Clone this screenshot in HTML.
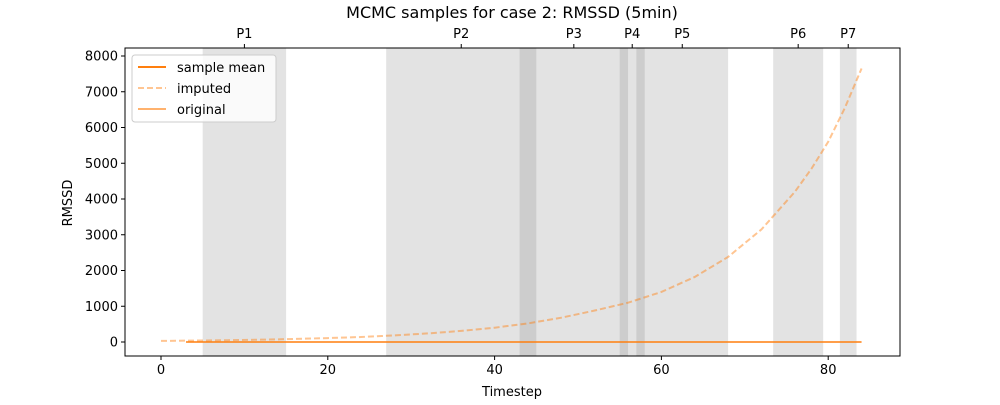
<!DOCTYPE html>
<html><head><meta charset="utf-8"><style>
body{margin:0;background:#fff;font-family:"Liberation Sans","DejaVu Sans",sans-serif}
svg text{font-family:"DejaVu Sans","Liberation Sans",sans-serif;font-size:13px;fill:#000}
</style></head><body>
<svg id="c" width="1000" height="400">
<text x="512" y="18" text-anchor="middle" style="font-size:16px">MCMC samples for case 2: RMSSD (5min)</text>
<g id="g"></g>
</svg>
<script>
const periodLabels=["P1","P2","P3","P4","P5","P6","P7"];
const periodStart=[5,27,43,55,57,73.4,81.4];
const periodEnd=[15,45,56,58,68,79.4,83.4];
const imputedT=[0,4,8,12,16,20,24,28,32,36,40,44,48,52,56,60,64,68,72,76,78,80,82,84];
const imputedV=[30,40,50,65,85,110,140,185,240,310,400,520,680,880,1100,1400,1820,2380,3150,4200,4850,5600,6550,7650];
const meanT=[3,84];
const meanV=[0,0];
const xTicks=[0,20,40,60,80];
const yTicks=[0,1000,2000,3000,4000,5000,6000,7000,8000];
const L=125,R=900,T=48,B=356;
const X=t=>161+t*8.34;
const Y=v=>342-v*0.03575;
const NS="http://www.w3.org/2000/svg";
const g=document.getElementById('g');
function mk(tag,at,txt){const e=document.createElementNS(NS,tag);for(const k in at)e.setAttribute(k,at[k]);if(txt!=null)e.textContent=txt;g.appendChild(e);return e;}
periodLabels.forEach((p,i)=>{
 const r=mk('rect',{x:X(periodStart[i]),y:T,width:X(periodEnd[i])-X(periodStart[i]),height:B-T,fill:'#808080','fill-opacity':0.22});
 
 
 const c=(X(periodStart[i])+X(periodEnd[i]))/2;
 mk('line',{x1:c,x2:c,y1:T,y2:T-4,stroke:'#000'});
 const t=mk('text',{x:c,y:T-10,'text-anchor':'middle'},p);
 
 
});
const imp=mk('polyline',{points:imputedT.map((t,i)=>X(t)+','+Y(imputedV[i])).join(' '),fill:'none',stroke:'#ff7f0e','stroke-opacity':0.45,'stroke-width':2,'stroke-dasharray':'6,3'});


const mn=mk('polyline',{points:meanT.map((t,i)=>X(t)+','+Y(meanV[i])).join(' '),fill:'none',stroke:'#ff7f0e','stroke-width':1.5});


mk('rect',{x:L,y:T,width:R-L,height:B-T,fill:'none',stroke:'#000','stroke-width':1});
xTicks.forEach(t=>{mk('line',{x1:X(t),x2:X(t),y1:B,y2:B+4,stroke:'#000'});
 const e=mk('text',{x:X(t),y:B+18,'text-anchor':'middle'},t);
 
 });
yTicks.forEach(v=>{mk('line',{x1:L,x2:L-4,y1:Y(v),y2:Y(v),stroke:'#000'});
 const e=mk('text',{x:L-7,y:Y(v)+4.5,'text-anchor':'end'},v);
 
 });
const xt=mk('text',{x:512,y:396,'text-anchor':'middle'},'Timestep');


const yt=mk('text',{x:72,y:203,'text-anchor':'middle',transform:'rotate(-90 72 203)'},'RMSSD');


const lg=mk('rect',{x:132,y:55,width:144,height:67,rx:3,fill:'#fff','fill-opacity':0.8,stroke:'#ccc'});


const items=[['sample mean',1,''],['imputed',0.45,'6,3'],['original',0.6,'']];
items.forEach((it,i)=>{const y=67+i*21;
 mk('line',{x1:138,x2:166,y1:y,y2:y,stroke:'#ff7f0e','stroke-opacity':it[1],'stroke-width':2,'stroke-dasharray':it[2]});
 const e=mk('text',{x:177,y:y+5},it[0]);
 
 });
</script>
</body></html>
